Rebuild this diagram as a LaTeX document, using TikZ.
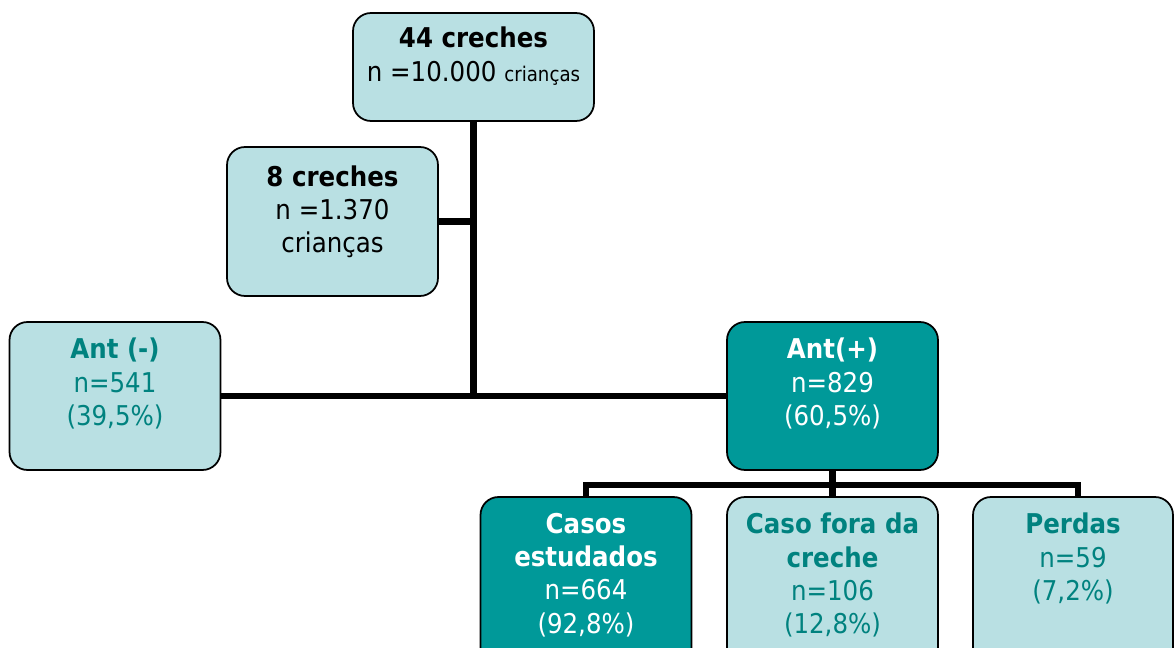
\documentclass[tikz,border=0pt]{standalone}
\usepackage{fontspec}
\setmainfont[FakeStretch=0.9]{DejaVu Sans}
\usetikzlibrary{positioning}

\definecolor{lightteal}{HTML}{B9E0E3}
\definecolor{darkteal}{HTML}{009999}
\definecolor{tealtext}{HTML}{00827F}

\tikzstyle{pt} = [coordinate]
\tikzstyle{box} = [draw=black, line width=1pt, rounded corners=0.36cm, fill=lightteal, minimum width=4.22cm, minimum height=2.96cm, inner sep=0]
\tikzstyle{boxdark} = [box, fill=darkteal]
\tikzstyle{txt} = [align=center, inner sep=0, font=\fontsize{15.5}{19}\selectfont, text=tealtext]
\tikzstyle{link} = [line width=3.6pt, draw=black]

\begin{document}
\begin{tikzpicture}[x=0.02cm, y=-0.02cm]
  \useasboundingbox (0,0) rectangle (1174,648);
  \clip (0,0) rectangle (1174,648);

%Nodes
	\node[box, minimum width=4.82cm, minimum height=2.16cm] (top) at (473.5,67) {};
	\node[box, minimum height=2.98cm] (creche8) at (332.5,221.5) {};
	\node[box] (antneg) at (115,396) {};
	\node[boxdark] (antpos) at (832.5,396) {};
	\node[boxdark, minimum height=3.4cm] (casos) at (586,582) {};
	\node[box, minimum height=3.4cm] (fora) at (832.5,582) {};
	\node[box, minimum width=4.0cm, minimum height=3.4cm] (perdas) at (1073,582) {};

	\node[pt] (hub) at (473.5,396) {};
	\node[pt] (split) at (832.5,485) {};
	\node[pt] (perdastop) at ([xshift=0.1cm]perdas.north) {};

%Texts
	\node[txt, text=black, below=0.29cm of top.north] {\textbf{44 creches}\\n =10.000 {\fontsize{11.5}{19}\selectfont crianças}};
	\node[txt, text=black, below=0.38cm of creche8.north] {\textbf{8 creches}\\n =1.370\\crianças};
	\node[txt, below=0.33cm of antneg.north] {\textbf{Ant (-)}\\n=541\\(39,5\%)};
	\node[txt, text=white, below=0.33cm of antpos.north] {\textbf{Ant(+)}\\n=829\\(60,5\%)};
	\node[txt, text=white, below=0.33cm of casos.north] {\textbf{Casos}\\\textbf{estudados}\\n=664\\(92,8\%)};
	\node[txt, below=0.33cm of fora.north] {\textbf{Caso fora da}\\\textbf{creche}\\n=106\\(12,8\%)};
	\node[txt, below=0.33cm of perdas.north] {\textbf{Perdas}\\n=59\\(7,2\%)};

%Connections
	\draw[link] (top) -- (hub);
	\draw[link] (creche8.east) -- (creche8.east -| hub);
	\draw[link] (antneg.east) -- (antpos.west);
	\draw[link] (antpos) -- (fora);
	\draw[link] (casos.north) -- (casos.north |- split) -- (perdastop |- split) -- (perdastop);

\end{tikzpicture}
\end{document}
